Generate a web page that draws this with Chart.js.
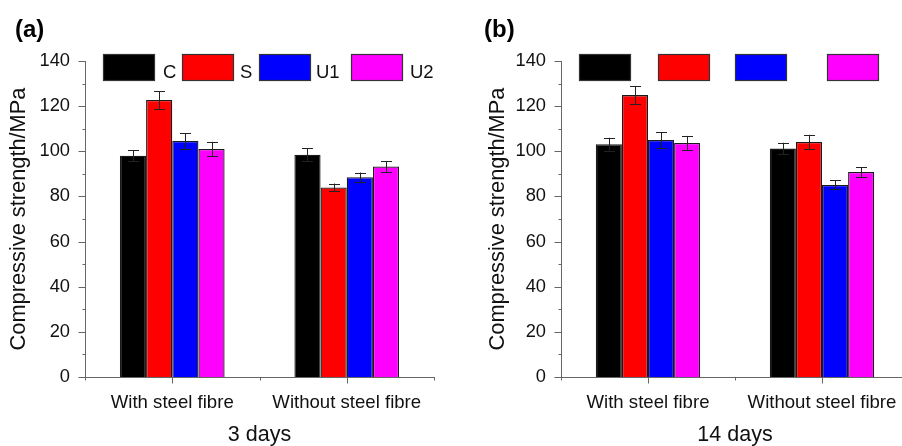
<!DOCTYPE html>
<html>
<head>
<meta charset="utf-8">
<script src="https://cdn.jsdelivr.net/npm/chart.js@4.4.1/dist/chart.umd.min.js"></script>
<style>
  html, body { margin: 0; padding: 0; background: #fff; overflow: hidden; }
  #wrapA { position: absolute; left: 0; top: 0; width: 451px; height: 446px; overflow: hidden; }
  #wrapB { position: absolute; left: 451px; top: 0; width: 451px; height: 446px; overflow: hidden; }
  canvas { display: block; }
</style>
</head>
<body>
<div id="wrapA"><canvas id="chartA" width="451" height="446"></canvas></div>
<div id="wrapB"><canvas id="chartB" width="470" height="446"></canvas></div>
<script>
// ---------- DATA ----------
const categories = ['With steel fibre', 'Without steel fibre'];
const seriesNames = ['C', 'S', 'U1', 'U2'];
const yTickValues = [0, 20, 40, 60, 80, 100, 120, 140];

// (a) 3 days
const a_C  = [98.0, 98.5];
const a_S  = [122.7, 84.0];
const a_U1 = [104.6, 88.5];
const a_U2 = [101.0, 93.3];
const a_C_err  = [2.5, 2.8];
const a_S_err  = [3.9, 1.7];
const a_U1_err = [3.5, 2.1];
const a_U2_err = [3.2, 2.4];

// (b) 14 days
const b_C  = [103.1, 101.2];
const b_S  = [124.9, 104.1];
const b_U1 = [105.0, 85.1];
const b_U2 = [103.7, 90.8];
const b_C_err  = [2.9, 2.6];
const b_S_err  = [4.0, 3.2];
const b_U1_err = [3.4, 2.0];
const b_U2_err = [3.1, 2.2];

// ---------- STYLE ----------
const seriesColors = ['#000000', '#ff0000', '#0000ff', '#ff00ff'];
const FONT = '"Liberation Sans", Arial, Helvetica, sans-serif';
const AXIS_COLOR = '#666666';
const TEXT_COLOR = '#111111';

function makeChart(canvasId, opts) {
  const values = opts.values, errors = opts.errors;
  const datasets = seriesNames.map((name, i) => ({
    label: name,
    data: values[i],
    errors: errors[i],
    backgroundColor: seriesColors[i],
    borderColor: '#1a1a1a',
    borderWidth: 1.3,
    borderSkipped: 'start',
    categoryPercentage: 0.6,
    barPercentage: 1.0
  }));

  const decor = {
    id: 'decor',
    afterDatasetsDraw(chart) {
      const ctx = chart.ctx;
      const xs = chart.scales.x, ys = chart.scales.y;
      const area = chart.chartArea;
      ctx.save();
      // error bars
      ctx.strokeStyle = '#222222';
      ctx.lineWidth = 1;
      chart.data.datasets.forEach((ds, di) => {
        const meta = chart.getDatasetMeta(di);
        meta.data.forEach((bar, i) => {
          const v = ds.data[i], e = ds.errors[i];
          const x = Math.round(bar.x) + 0.5;
          const yTop = ys.getPixelForValue(v + e);
          const yBot = ys.getPixelForValue(v - e);
          ctx.beginPath();
          ctx.moveTo(x, yTop); ctx.lineTo(x, yBot);
          ctx.moveTo(x - 5.5, Math.round(yTop) + 0.5); ctx.lineTo(x + 5.5, Math.round(yTop) + 0.5);
          ctx.moveTo(x - 5.5, Math.round(yBot) + 0.5); ctx.lineTo(x + 5.5, Math.round(yBot) + 0.5);
          ctx.stroke();
        });
      });
      // y ticks (major every 20, minor every 10)
      ctx.strokeStyle = AXIS_COLOR;
      const left = Math.round(area.left) + 0.5;
      for (let v = ys.min; v <= ys.max; v += 10) {
        const y = Math.round(ys.getPixelForValue(v)) + 0.5;
        const len = (v % 20 === 0) ? 7 : 3;
        ctx.beginPath(); ctx.moveTo(left - len, y); ctx.lineTo(left, y); ctx.stroke();
      }
      // x ticks: major at category centres, minor at boundaries
      const bottom = Math.round(area.bottom) + 0.5;
      categories.forEach((c, i) => {
        const x = Math.round(xs.getPixelForValue(i)) + 0.5;
        ctx.beginPath(); ctx.moveTo(x, bottom); ctx.lineTo(x, bottom + 6); ctx.stroke();
      });
      const catW = (area.right - area.left) / categories.length;
      for (let i = 0; i <= categories.length; i++) {
        const x = Math.round(area.left + catW * i) + 0.5;
        ctx.beginPath(); ctx.moveTo(x, bottom); ctx.lineTo(x, bottom + 3); ctx.stroke();
      }
      // legend boxes
      const boxOffsets = [18, 97, 174, 266];
      const labelOffsets = [78, 155, 231, 325];
      ctx.lineWidth = 1.2;
      ctx.strokeStyle = '#333333';
      chart.data.datasets.forEach((ds, di) => {
        const bx = Math.round(area.left + boxOffsets[di]) + 0.5;
        ctx.fillStyle = ds.backgroundColor;
        ctx.fillRect(bx, 54.5, 51, 26);
        ctx.strokeRect(bx, 54.5, 51, 26);
        if (opts.legendText) {
          ctx.fillStyle = TEXT_COLOR;
          ctx.font = '18.5px ' + FONT;
          ctx.textAlign = 'left';
          ctx.textBaseline = 'alphabetic';
          ctx.fillText(ds.label, area.left + labelOffsets[di], 77.5);
        }
      });
      // panel label
      ctx.fillStyle = '#000000';
      ctx.font = 'bold 24px ' + FONT;
      ctx.textAlign = 'left';
      ctx.textBaseline = 'middle';
      ctx.fillText(opts.panel, opts.panelX, 30);
      ctx.restore();
    }
  };

  return new Chart(document.getElementById(canvasId), {
    type: 'bar',
    data: { labels: categories, datasets },
    options: {
      responsive: false,
      animation: false,
      devicePixelRatio: 1,
      layout: { padding: { top: 61, left: 0, right: opts.padRight, bottom: 0 } },
      plugins: { legend: { display: false }, tooltip: { enabled: false } },
      scales: {
        x: {
          offset: true,
          grid: { display: false, drawTicks: false },
          border: { display: true, color: AXIS_COLOR, width: 1 },
          ticks: { color: TEXT_COLOR, font: { family: FONT, size: 18.6 }, padding: 15, maxRotation: 0 },
          title: { display: true, text: opts.xTitle, color: TEXT_COLOR,
                   font: { family: FONT, size: 21.5, lineHeight: 1 }, padding: { top: 4, bottom: 0 } },
          afterFit(scale) { scale.height = 446 - 377; }
        },
        y: {
          min: 0, max: 140,
          afterBuildTicks(scale) { scale.ticks = yTickValues.map(v => ({ value: v })); },
          grid: { display: false, drawTicks: false },
          border: { display: true, color: AXIS_COLOR, width: 1 },
          ticks: { color: TEXT_COLOR, font: { family: FONT, size: 18.3 }, padding: 15 },
          title: { display: true, text: 'Compressive strength/MPa', color: TEXT_COLOR,
                   font: { family: FONT, size: 21.8, lineHeight: 1 }, padding: { top: opts.yTitleOffset, bottom: 0 } },
          afterFit(scale) { scale.width = opts.axisLeft; }
        }
      }
    },
    plugins: [decor]
  });
}

makeChart('chartA', {
  values: [a_C, a_S, a_U1, a_U2],
  errors: [a_C_err, a_S_err, a_U1_err, a_U2_err],
  xTitle: '3 days', panel: '(a)', panelX: 15, legendText: true,
  axisLeft: 85, padRight: 451 - 434, yTitleOffset: 8
});
makeChart('chartB', {
  values: [b_C, b_S, b_U1, b_U2],
  errors: [b_C_err, b_S_err, b_U1_err, b_U2_err],
  xTitle: '14 days', panel: '(b)', panelX: 33, legendText: false,
  axisLeft: 110, padRight: 470 - 458, yTitleOffset: 36.5
});
</script>
</body>
</html>
